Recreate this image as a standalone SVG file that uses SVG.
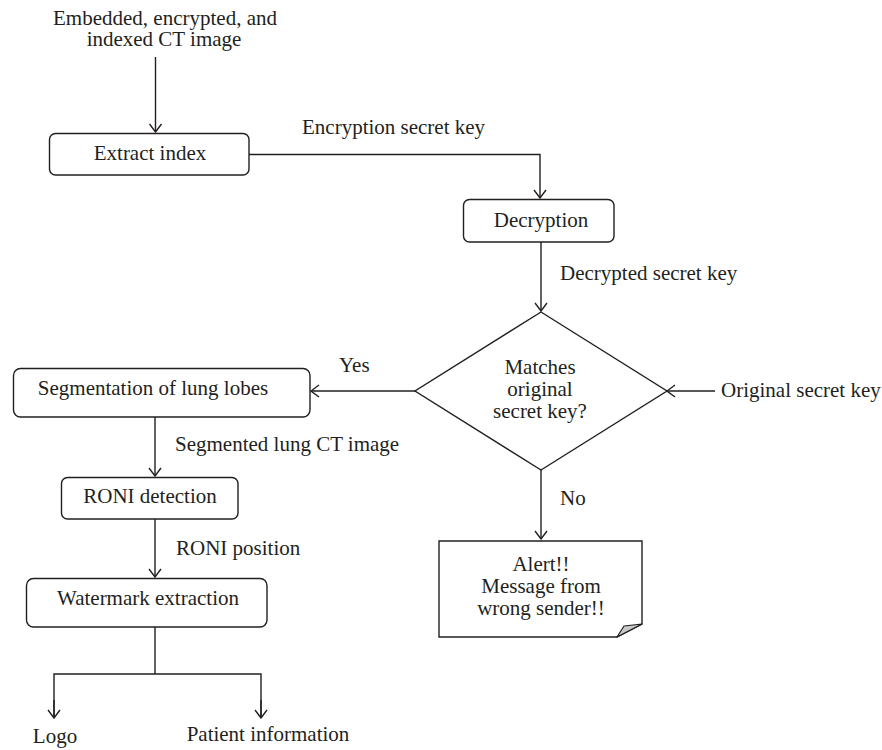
<svg xmlns="http://www.w3.org/2000/svg" width="882" height="750" viewBox="0 0 882 750">
<defs>
<style>
text{font-family:"Liberation Serif","DejaVu Serif",serif;font-size:21px;fill:#231f20}
.c{text-anchor:middle}
.box{fill:#fff;stroke:#231f20;stroke-width:1.4}
.ln{fill:none;stroke:#231f20;stroke-width:1.4}
</style>
<marker id="ah" viewBox="0 0 10 14" refX="9" refY="7" markerWidth="10" markerHeight="14" markerUnits="userSpaceOnUse" orient="auto">
<path d="M1,1 L9,7 L1,13" fill="none" stroke="#231f20" stroke-width="1.4"/>
</marker>
</defs>
<rect width="882" height="750" fill="#fff"/>

<g id="connectors">
<line class="ln" x1="155.5" y1="57" x2="155.5" y2="132" marker-end="url(#ah)"/>
<polyline class="ln" points="249,154.5 540,154.5 540,198" marker-end="url(#ah)"/>
<line class="ln" x1="541" y1="242" x2="541" y2="311" marker-end="url(#ah)"/>
<line class="ln" x1="715" y1="391" x2="667" y2="391" marker-end="url(#ah)"/>
<line class="ln" x1="415" y1="391" x2="311" y2="391" marker-end="url(#ah)"/>
<line class="ln" x1="541" y1="470" x2="541" y2="539" marker-end="url(#ah)"/>
<line class="ln" x1="155" y1="417" x2="155" y2="476" marker-end="url(#ah)"/>
<line class="ln" x1="155" y1="519" x2="155" y2="577" marker-end="url(#ah)"/>
<line class="ln" x1="155" y1="627" x2="155" y2="674"/>
<polyline class="ln" points="54,718 54,674 261,674 261,718"/>
<line class="ln" x1="54" y1="700" x2="54" y2="718" marker-end="url(#ah)"/>
<line class="ln" x1="261" y1="700" x2="261" y2="718" marker-end="url(#ah)"/>
<text x="302" y="134">Encryption secret key</text>
<text x="560" y="280">Decrypted secret key</text>
<text x="721" y="397">Original secret key</text>
<text x="339" y="372">Yes</text>
<text x="560" y="505">No</text>
<text x="175" y="451">Segmented lung CT image</text>
<text x="176" y="555">RONI position</text>
</g>

<g id="input">
<text class="c" x="165" y="25">Embedded, encrypted, and<tspan x="164" dy="21">indexed CT image</tspan></text>
</g>

<g id="extract-index">
<rect class="box" x="49.5" y="133.5" width="199.5" height="41.5" rx="6"/>
<text class="c" x="150" y="160">Extract index</text>
</g>

<g id="decryption">
<rect class="box" x="463.5" y="199.5" width="150.5" height="42.5" rx="6"/>
<text class="c" x="541" y="227">Decryption</text>
</g>

<g id="decision">
<polygon class="box" points="541,312 667,391 541,470 415,391"/>
<text class="c" x="540" y="374">Matches<tspan x="540" dy="22">original</tspan><tspan x="540" dy="21.5">secret key?</tspan></text>
</g>

<g id="alert">
<path class="box" d="M439,541 H642 V624 L617,637 H439 Z"/>
<path d="M617,637 L624,626 L642,624 Z" fill="#c8c8c8" stroke="#231f20" stroke-width="1.2" stroke-linejoin="round"/>
<text class="c" x="541" y="571">Alert!!<tspan x="541" dy="22">Message from</tspan><tspan x="541" dy="22">wrong sender!!</tspan></text>
</g>

<g id="segmentation">
<rect class="box" x="13.5" y="368.5" width="296.5" height="48.5" rx="7"/>
<text class="c" x="153" y="395">Segmentation of lung lobes</text>
</g>

<g id="roni-detection">
<rect class="box" x="61.5" y="477.5" width="176.5" height="41.5" rx="6"/>
<text class="c" x="150" y="503">RONI detection</text>
</g>

<g id="watermark-extraction">
<rect class="box" x="26.5" y="578.5" width="240.5" height="48.5" rx="7"/>
<text class="c" x="148" y="605">Watermark extraction</text>
</g>

<g id="logo">
<text class="c" x="55" y="743">Logo</text>
</g>

<g id="patient-information">
<text class="c" x="268" y="741">Patient information</text>
</g>
</svg>
